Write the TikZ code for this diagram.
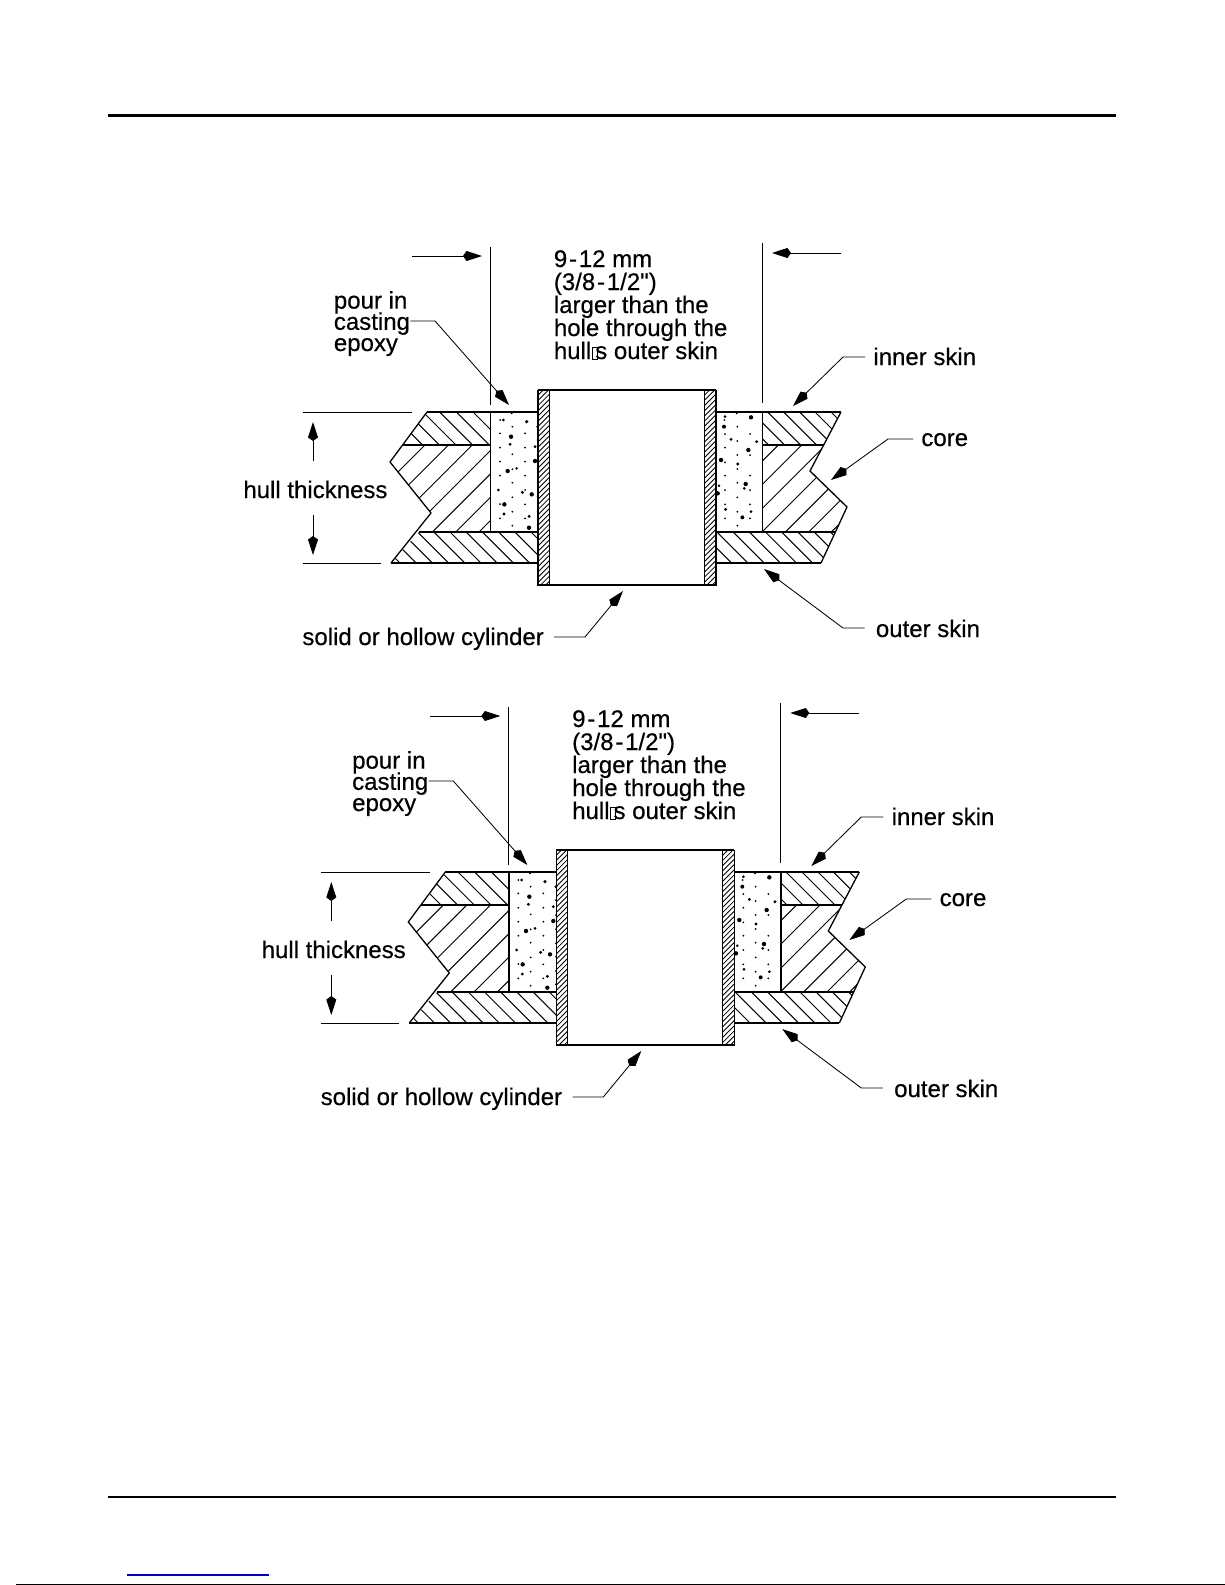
\documentclass[tikz,border=0pt]{standalone}
\usepackage{fontspec}
\usetikzlibrary{arrows.meta}
\newfontfamily\hullfont{Liberation Sans}[FakeBold=0.45]
\definecolor{linkblue}{RGB}{0,0,205}
\newcommand\notdefbox{\kern0.2pt{\fboxsep=0pt\fboxrule=0.35pt\fbox{\rule{2.3pt}{0pt}\rule{0pt}{5.7pt}}}\kern-1.2pt}
\newcommand\widedash{\kern0.9pt-\kern0.9pt}
\tikzset{
	lbl/.style={inner sep=0,anchor=base west,align=left,font=\hullfont\fontsize{12}{11.5}\selectfont},
	heavy/.style={line width=0.85pt},
	outline/.style={line width=0.65pt},
	hatch/.style={line width=0.5pt},
	fine/.style={line width=0.42pt},
	kite/.style={fine,-{Kite[length=9.5pt,width=5pt,inset=1.8pt]}},
	leader/.style={kite,shorten <=5pt},
}
\begin{document}
\begin{tikzpicture}[x=0.5pt,y=-0.5pt]
	\useasboundingbox (0,0) rectangle (1225,1585);
	
	% PAGE RULES
	\coordinate (topA) at (108,115);
	\coordinate (topB) at (1116,115);
	\coordinate (footA) at (108,1497);
	\coordinate (footB) at (1116,1497);
	\draw[line width=1.5pt] (topA) -- (topB);
	\draw[line width=1pt] (footA) -- (footB);
	\coordinate (linkA) at (127,1575);
	\coordinate (linkB) at (269,1575);
	\draw[linkblue,line width=0.6pt] (linkA) -- (linkB);
	\coordinate (edgeA) at (16,1584.5);
	\coordinate (edgeB) at (1225,1584.5);
	\draw[line width=0.5pt] (edgeA) -- (edgeB);
	
	\foreach \ox/\oy/\fig in {0/0/a,18.3/460/b}{
		\begin{scope}[shift={(\ox,\oy)}]
			% OUTLINE POINTS
			\coordinate (ltop\fig) at (427,412);
			\coordinate (lmid\fig) at (402.6,445);
			\coordinate (lout\fig) at (390,462);
			\coordinate (lin\fig) at (431,513);
			\coordinate (llow\fig) at (419,532);
			\coordinate (lbot\fig) at (391,563);
			\coordinate (rtop\fig) at (841,412);
			\coordinate (rmid\fig) at (823.7,445);
			\coordinate (rin\fig) at (810,471);
			\coordinate (rout\fig) at (847,507);
			\coordinate (rlow\fig) at (835.4,532);
			\coordinate (rbot\fig) at (821,563);
			
			% HATCHING
			\begin{scope}
				\clip (ltop\fig) -- (490.5,412) -- (490.5,445) -- (lmid\fig) -- cycle;
				\foreach \c in {-22.3,-5.6,11,27.7,44.4,61}
				\draw[hatch] ({\c+380},380) -- ({\c+600},600);
			\end{scope}
			\begin{scope}
				\clip (lmid\fig) -- (490.5,445) -- (490.5,532) -- (llow\fig) -- (lin\fig) -- (lout\fig) -- cycle;
				\foreach \s in {846.5,870,893.5,917.2,941,964.3,987.7,1011}
				\draw[hatch] ({\s-380},380) -- ({\s-600},600);
			\end{scope}
			\begin{scope}
				\clip (llow\fig) -- (538,532) -- (538,563) -- (lbot\fig) -- cycle;
				\foreach \k in {0,...,10}
				\draw[hatch] ({-1-16.2*\k+380},380) -- ({-1-16.2*\k+600},600);
			\end{scope}
			\begin{scope}
				\clip (762.5,412) -- (rtop\fig) -- (rmid\fig) -- (762.5,445) -- cycle;
				\foreach \c in {323.7,339.7,355.7,371.7,387.7,403,419}
				\draw[hatch] ({\c+380},380) -- ({\c+600},600);
			\end{scope}
			\begin{scope}
				\clip (762.5,445) -- (rmid\fig) -- (rin\fig) -- (rout\fig) -- (rlow\fig) -- (762.5,532) -- cycle;
				\foreach \s in {1223.3,1246.7,1270.7,1294,1317.3,1340.7,1363.3}
				\draw[hatch] ({\s-380},380) -- ({\s-600},600);
			\end{scope}
			\begin{scope}
				\clip (716,532) -- (rlow\fig) -- (rbot\fig) -- (716,563) -- cycle;
				\foreach \k in {0,...,9}
				\draw[hatch] ({298.3-16.2*\k+380},380) -- ({298.3-16.2*\k+600},600);
			\end{scope}
			\begin{scope}
				\clip (538,390) rectangle (549,585) (704,390) rectangle (716,585);
				\foreach \s in {928,933.2,...,1301}
				\draw[fine] ({\s-380},380) -- ({\s-600},600);
			\end{scope}
			
			% EPOXY LEFT
			\begin{scope}[shift={(385,385)},x=0.1667pt,y=-0.1667pt]
				\foreach \px/\py/\r in {345/105/.5,355/105/.75,380/85/.5,425/110/.9,382/125/.5,345/145/.5,420/145/.5,378/155/1.1,375/178/.8,345/188/.5,382/208/.5,420/188/.5,450/185/.8,458/125/.8,345/230/.5,420/230/.5,450/228/1.1,368/258/1.1,382/253/.5,395/250/.7,345/272/.5,420/272/.5,382/293/.5,340/315/.75,412/322/.8,440/328/1.1,420/315/.5,345/357/.5,358/358/1.1,382/337/.5,420/358/.5,382/380/.5,357/387/.8,345/400/.5,420/400/.5,432/394/.8,432/428/1.1,382/422/.5,458/295/.5,458/335/.5,458/378/.5,458/418/.5,458/252/.5,458/210/.5,458/165/.5}
				\fill (\px,\py) circle (\r pt);
			\end{scope}
			% EPOXY RIGHT
			\begin{scope}[shift={(695,385)},x=0.1667pt,y=-0.1667pt]
				\foreach \px/\py/\r in {90/95/.75,88/105/.5,125/85/.5,168/97/1.1,87/125/1,127/125/.5,90/147/.5,165/147/.5,108/163/.8,127/168/.5,185/170/.8,90/188/.5,160/195/1.1,127/210/.5,165/210/.5,78/225/1.1,90/232/.5,128/237/.8,127/252/.5,90/272/.5,165/272/.5,127/293/.5,72/302/.7,152/297/1.1,148/310/.75,68/325/1.1,90/315/.5,165/315/.5,127/337/.5,90/358/.5,165/358/.5,92/373/.8,127/380/.5,168/380/.75,90/400/.5,142/397/1,165/400/.5,127/422/.5}
				\fill (\px,\py) circle (\r pt);
			\end{scope}
			
			% HULL LINES
			\draw[heavy] (ltop\fig) -- (538,412) (716,412) -- (rtop\fig);
			\draw[heavy] (lbot\fig) -- (538,563) (716,563) -- (rbot\fig);
			\draw[outline] (ltop\fig) -- (lout\fig) -- (lin\fig) -- (lbot\fig);
			\draw[outline] (rtop\fig) -- (rin\fig) -- (rout\fig) -- (rbot\fig);
			\draw[heavy] (lmid\fig) -- (490.5,445) (762.5,445) -- (rmid\fig);
			\draw[outline] (llow\fig) -- (538,532) (716,532) -- (rlow\fig);
			\draw[heavy] (490.5,412) -- (490.5,532) (762.5,412) -- (762.5,532);
			
			% CYLINDER
			\draw[heavy] (538,390) -- (716,390);
			\draw[outline] (538,390) -- (538,585) -- (716,585) -- (716,390);
			\draw[fine] (549,390) -- (549,585) (704,390) -- (704,585);
			
			% LABELS
			\node[lbl] (size\fig) at (553.5,359) {9\widedash 12 mm\\(3/8\widedash 1/2")\\larger than the\\hole through the\\hull\notdefbox s outer skin};
			\node[lbl] (pour\fig) at (333.5,351) {pour in\\[-0.9pt]casting\\[-0.9pt]epoxy};
			\node[lbl] (thick\fig) at (243,498) {hull thickness};
			\node[lbl] (cyl\fig) at (302,645) {solid or hollow cylinder};
			\node[lbl] (inner\fig) at (873,365) {inner skin};
			\node[lbl] (core\fig) at (921,446) {core};
			\node[lbl] (outer\fig) at (875.5,637) {outer skin};
			
			% LEADERS
			\coordinate (pourKnee\fig) at (435,321);
			\coordinate (pourTip\fig) at (509,405);
			\draw[kite] (pour\fig.east |- pourKnee\fig) -- (pourKnee\fig) -- (pourTip\fig);
			\coordinate (cylKnee\fig) at (585,637);
			\coordinate (cylTip\fig) at (623,591);
			\draw[leader] (cyl\fig.east |- cylKnee\fig) -- (cylKnee\fig) -- (cylTip\fig);
			\coordinate (innerKnee\fig) at (843,357);
			\coordinate (innerTip\fig) at (793,406);
			\draw[leader,shorten <=4pt] (inner\fig.west |- innerKnee\fig) -- (innerKnee\fig) -- (innerTip\fig);
			\coordinate (coreKnee\fig) at (888,439);
			\coordinate (coreTip\fig) at (831,480);
			\draw[leader,shorten <=4pt] (core\fig.west |- coreKnee\fig) -- (coreKnee\fig) -- (coreTip\fig);
			\coordinate (outerKnee\fig) at (843,628);
			\coordinate (outerTip\fig) at (764,569);
			\draw[leader,shorten <=5.5pt] (outer\fig.west |- outerKnee\fig) -- (outerKnee\fig) -- (outerTip\fig);
			
			% MEASURES
			\coordinate (gapLtop\fig) at (490.5,247);
			\coordinate (gapLbot\fig) at (490.5,405);
			\coordinate (gapRtop\fig) at (762.5,243);
			\coordinate (gapRbot\fig) at (762.5,403);
			\draw[fine] (gapLtop\fig) -- (gapLbot\fig);
			\draw[fine] (gapRtop\fig) -- (gapRbot\fig);
			\coordinate (gapLfrom\fig) at (412,256);
			\coordinate (gapLtip\fig) at (482,256);
			\coordinate (gapRfrom\fig) at (841,253);
			\coordinate (gapRtip\fig) at (772,253);
			\draw[kite] (gapLfrom\fig) -- (gapLtip\fig);
			\draw[kite] (gapRfrom\fig) -- (gapRtip\fig);
			\coordinate (extTopA\fig) at (303,412);
			\coordinate (extTopB\fig) at (412,412);
			\coordinate (extBotA\fig) at (303,563);
			\coordinate (extBotB\fig) at (381,563);
			\draw[fine] (extTopA\fig) -- (extTopB\fig);
			\draw[fine] (extBotA\fig) -- (extBotB\fig);
			\coordinate (thickUp\fig) at (313,422);
			\coordinate (thickDown\fig) at (313,555);
			\draw[kite,shorten <=9.5pt] (thick\fig.north -| thickUp\fig) -- (thickUp\fig);
			\draw[kite,shorten <=8pt] (thick\fig.south -| thickDown\fig) -- (thickDown\fig);
		\end{scope}
	}
\end{tikzpicture}
\end{document}
